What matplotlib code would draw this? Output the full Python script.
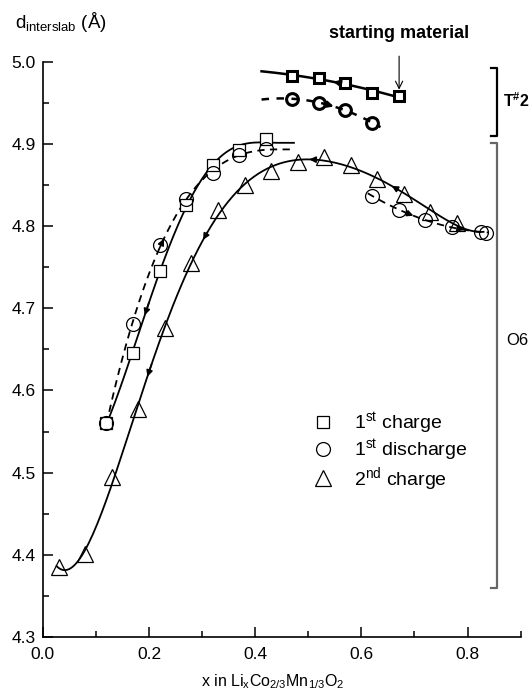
import numpy as np
import matplotlib
matplotlib.use("Agg")
import matplotlib.pyplot as plt

plt.rcParams['font.family'] = ['Liberation Sans', 'DejaVu Sans']
plt.rcParams['mathtext.default'] = 'regular'

# 1st charge (O6 part)
x_c1 = [0.12, 0.17, 0.22, 0.27, 0.32, 0.37, 0.42]
y_c1 = [4.560, 4.646, 4.745, 4.826, 4.874, 4.892, 4.906]
# 1st discharge, low x part
x_d1a = [0.12, 0.17, 0.22, 0.27, 0.32, 0.37, 0.42]
y_d1a = [4.560, 4.681, 4.777, 4.833, 4.865, 4.886, 4.894]
# 1st discharge, high x part
x_d1b = [0.62, 0.67, 0.72, 0.77, 0.825, 0.835]
y_d1b = [4.837, 4.820, 4.807, 4.799, 4.793, 4.792]
# 2nd charge
x_c2 = [0.03, 0.08, 0.13, 0.18, 0.23, 0.28, 0.33, 0.38, 0.43, 0.48,
        0.53, 0.58, 0.63, 0.68, 0.73, 0.78]
y_c2 = [4.385, 4.401, 4.495, 4.577, 4.676, 4.755, 4.820, 4.850, 4.867, 4.878,
        4.884, 4.874, 4.857, 4.839, 4.817, 4.804]
# T#2 phase
x_t_c = [0.47, 0.52, 0.57, 0.62, 0.67]
y_t_c = [4.983, 4.980, 4.974, 4.962, 4.958]
x_t_d = [0.47, 0.52, 0.57, 0.62]
y_t_d = [4.955, 4.950, 4.941, 4.926]

labels = ['1$^{st}$ charge', '1$^{st}$ discharge', '2$^{nd}$ charge']

fig = plt.figure(figsize=(5.32, 6.94), dpi=100)
ax = fig.add_axes([0.0803, 0.0821, 0.8985, 0.829])


def fit(xs, ys, deg, x0, x1):
    p = np.polyfit(xs, ys, deg)
    xx = np.linspace(x0, x1, 200)
    return p, xx, np.polyval(p, xx)


def fit_flat(xs, ys, x0, xf, x1):
    # least squares in u = xf - x with zero slope at xf, flat up to x1
    u = xf - np.asarray(xs)
    A = np.column_stack([np.ones_like(u), u**2, u**3, u**4])
    c = np.linalg.lstsq(A, np.asarray(ys), rcond=None)[0]

    def f(x):
        v = np.clip(xf - np.asarray(x), 0, None)
        return c[0] + c[1] * v**2 + c[2] * v**3 + c[3] * v**4
    xx = np.linspace(x0, x1, 200)
    return f, xx, f(xx)


def arrow(f, x, direction, lw=1.2):
    if not callable(f):
        p = f
        f = lambda v: np.polyval(p, v)
    dx = 0.008 * direction
    ax.annotate('', xy=(x + dx, f(x + dx)), xytext=(x, f(x)),
                arrowprops=dict(arrowstyle='-|>', lw=lw, color='k',
                                mutation_scale=9, shrinkA=0, shrinkB=0))


# fitted curves (charge / discharge guides end flat at x = 0.473)
f1, xx, yy = fit_flat(x_c1, y_c1, 0.12, 0.44, 0.473)
ax.plot(xx, yy, 'k-', lw=1.3)
arrow(f1, 0.20, -1)

f2, xx, yy = fit_flat(x_d1a, y_d1a, 0.12, 0.44, 0.473)
ax.plot(xx, yy, 'k--', lw=1.3, dashes=(4, 3))
arrow(f2, 0.22, 1)

p3, xx, yy = fit(x_d1b, y_d1b, 2, 0.612, 0.84)
ax.plot(xx, yy, 'k--', lw=1.3, dashes=(4, 3))
arrow(p3, 0.69, 1)
arrow(p3, 0.785, 1)

p4, xx, yy = fit(x_c2 + [0.83], y_c2 + [4.792], 6, 0.026, 0.83)
ax.plot(xx, yy, 'k-', lw=1.3)
for xa in [0.665, 0.51, 0.31, 0.205]:
    arrow(p4, xa, -1)

p5, xx, yy = fit(x_t_c, y_t_c, 2, 0.412, 0.67)
ax.plot(xx, yy, 'k-', lw=1.8)
arrow(p5, 0.555, -1, lw=1.8)

p6, xx, yy = fit(x_t_d, y_t_d, 2, 0.412, 0.636)
ax.plot(xx, yy, 'k--', lw=1.8, dashes=(3, 3))
arrow(p6, 0.540, 1, lw=1.8)

# markers
ax.plot(x_c1, y_c1, 's', ms=9, mfc='white', mec='k', mew=0.9, label=labels[0])
ax.plot(x_d1a, y_d1a, 'o', ms=10, mfc='none', mec='k', mew=0.9, label=labels[1])
ax.plot(x_d1b, y_d1b, 'o', ms=10, mfc='none', mec='k', mew=0.9)
ax.plot(x_c2, y_c2, '^', ms=11, mfc='none', mec='k', mew=0.9, label=labels[2])
ax.plot(x_t_c, y_t_c, 's', ms=7.5, mfc='white', mec='k', mew=2.2)
ax.plot(x_t_d, y_t_d, 'o', ms=8.5, mfc='none', mec='k', mew=2.2)

# phase brackets
ax.plot([0.844, 0.8556, 0.8556, 0.844], [4.992, 4.992, 4.910, 4.910], 'k-', lw=1.6)
ax.plot([0.844, 0.8556, 0.8556, 0.844], [4.901, 4.901, 4.360, 4.360], '-',
        color='#666666', lw=1.6)
ax.text(0.866, 4.953, 'T$^{\\#}$2', fontsize=11.5, fontweight='bold', va='center')
ax.text(0.873, 4.661, 'O6', fontsize=12, va='center')

ax.annotate('starting material', xy=(0.671, 4.966), xytext=(0.671, 5.034),
            ha='center', va='center', fontsize=13, fontweight='bold',
            annotation_clip=False,
            arrowprops=dict(arrowstyle='->', lw=0.8, color='k', shrinkA=8, shrinkB=0))

ax.set_xlim(0, 0.9)
ax.set_ylim(4.3, 5.0)
ax.set_xticks([0.0, 0.2, 0.4, 0.6, 0.8])
ax.set_xticks([0.1, 0.3, 0.5, 0.7, 0.9], minor=True)
ax.set_yticks(np.arange(4.3, 5.01, 0.1))
ax.set_yticks(np.arange(4.35, 5.0, 0.1), minor=True)
ax.xaxis.set_major_formatter(matplotlib.ticker.FormatStrFormatter('%.1f'))
ax.yaxis.set_major_formatter(matplotlib.ticker.FormatStrFormatter('%.1f'))
ax.tick_params(which='both', direction='in', width=1.1, labelsize=12.5)
ax.tick_params(which='major', length=7)
ax.tick_params(axis='y', which='major', pad=5)
ax.tick_params(axis='x', which='major', pad=7)
ax.tick_params(which='minor', length=4)
for s in ['top', 'right']:
    ax.spines[s].set_visible(False)
for s in ['left', 'bottom']:
    ax.spines[s].set_linewidth(1.2)

ax.set_xlabel('x in Li$_x$Co$_{2/3}$Mn$_{1/3}$O$_2$', fontsize=11.5)
ax.xaxis.set_label_coords(0.482, -0.062)
fig.text(0.028, 0.968, 'd$_{interslab}$ (Å)', fontsize=13.5, va='center')

ax.legend(loc='upper left', bbox_to_anchor=(0.52, 0.424), frameon=False,
          fontsize=14, handletextpad=0.8, labelspacing=0.08, handlelength=1.5)

fig.savefig('out.png', dpi=100)
